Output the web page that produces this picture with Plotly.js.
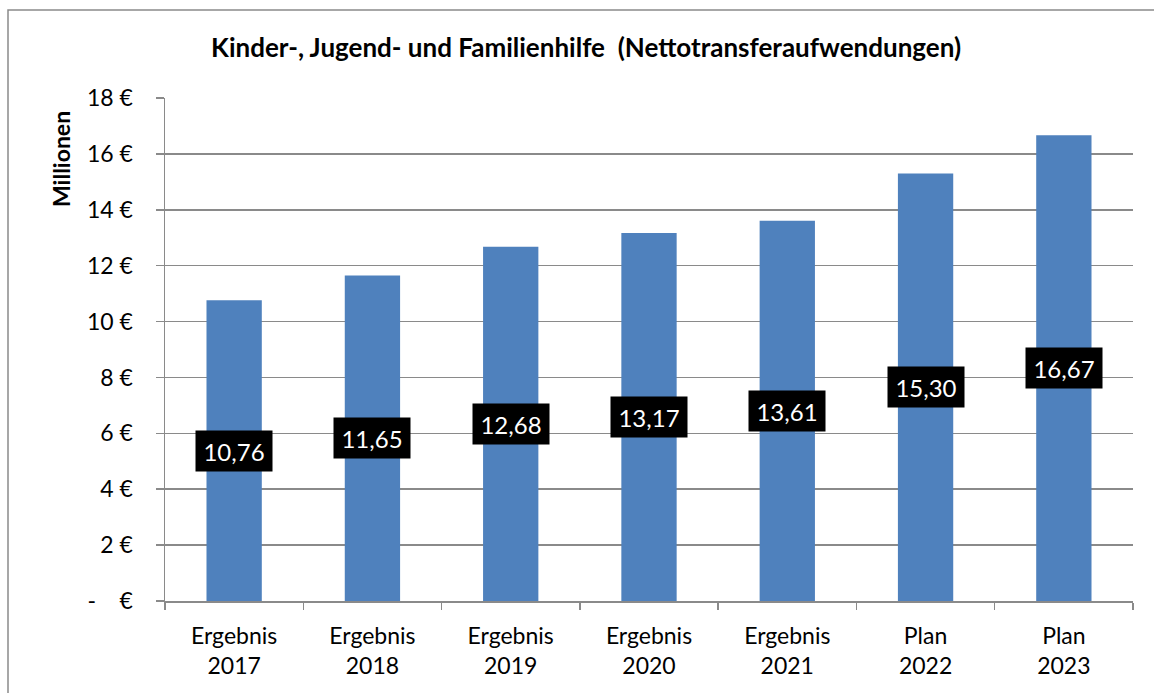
<!DOCTYPE html>
<html>
<head>
<meta charset="utf-8">
<script src="https://cdn.plot.ly/plotly-3.0.1.min.js"></script>
<style>html,body{margin:0;padding:0;background:#fff;}#chart{width:1154px;height:693px;}</style>
</head>
<body>
<div id="chart"></div>
<script>
const categories = ["Ergebnis<br>2017","Ergebnis<br>2018","Ergebnis<br>2019","Ergebnis<br>2020","Ergebnis<br>2021","Plan<br>2022","Plan<br>2023"];
const values = [10.76, 11.65, 12.68, 13.17, 13.61, 15.30, 16.67];
const yTickVals = [0, 2, 4, 6, 8, 10, 12, 14, 16, 18];
const yTickText = ["-\u00a0\u00a0\u00a0\u00a0€", "2 €", "4 €", "6 €", "8 €", "10 €", "12 €", "14 €", "16 €", "18 €"];
const titleText = "Kinder-, Jugend- und Familienhilfe  (Nettotransferaufwendungen)";
const yTitle = "Millionen";

const FONT = "Lato, 'Open Sans', sans-serif";
const gridColor = "#8a8a8a";

const labelAnnotations = values.map((v, i) => ({
  x: categories[i], y: v / 2, xref: "x", yref: "y",
  text: v.toFixed(2).replace(".", ","),
  showarrow: false,
  bgcolor: "#000000",
  width: 76, height: 40, borderpad: 0,
  font: {family: FONT, size: 24, color: "#ffffff"},
  xanchor: "center", yanchor: "middle"
}));

const data = [{
  type: "bar",
  x: categories,
  y: values,
  marker: {color: "#4F81BD"},
  width: 0.4,
  hoverinfo: "skip"
}];

const layout = {
  width: 1154, height: 693,
  margin: {l: 165, r: 21, t: 98, b: 92},
  paper_bgcolor: "#ffffff", plot_bgcolor: "#ffffff",
  showlegend: false,
  font: {family: FONT, color: "#000000"},
  title: {
    text: "<b>" + titleText + "</b>",
    font: {family: FONT, size: 26, color: "#000000"},
    xref: "paper", x: 0.435, xanchor: "center",
    yref: "container", y: 1 - 48 / 693, yanchor: "middle"
  },
  xaxis: {
    type: "category",
    showgrid: false,
    showline: true, linecolor: gridColor, linewidth: 1.5,
    ticks: "outside", tickson: "boundaries", ticklen: 7, tickcolor: gridColor, tickwidth: 1.5,
    tickfont: {family: FONT, size: 23, color: "#000000"},
    ticklabelstandoff: 14,
    fixedrange: true
  },
  yaxis: {
    range: [0, 18],
    tickvals: yTickVals, ticktext: yTickText,
    showgrid: true, gridcolor: gridColor, gridwidth: 1.5,
    showline: true, linecolor: gridColor, linewidth: 1.5,
    ticks: "outside", ticklen: 8, tickcolor: gridColor, tickwidth: 1.5,
    tickfont: {family: FONT, size: 23, color: "#000000"},
    ticklabelstandoff: 18,
    zeroline: false,
    fixedrange: true
  },
  annotations: labelAnnotations.concat([{
    text: "<b>" + yTitle + "</b>",
    xref: "paper", yref: "paper",
    x: (61 - 165) / 968, y: 1 - (159 - 98) / 503,
    textangle: -90, showarrow: false,
    font: {family: FONT, size: 23, color: "#000000"},
    xanchor: "center", yanchor: "middle"
  }]),
  shapes: [{
    type: "rect", xref: "paper", yref: "paper",
    x0: (8 - 165) / 968, x1: 1.05,
    y0: -0.3, y1: 1 + (98 - 10) / 503,
    line: {color: "#8a8a8a", width: 1.5},
    fillcolor: "rgba(0,0,0,0)",
    layer: "below"
  }]
};

Plotly.newPlot("chart", data, layout, {displayModeBar: false, staticPlot: true});
</script>
</body>
</html>
